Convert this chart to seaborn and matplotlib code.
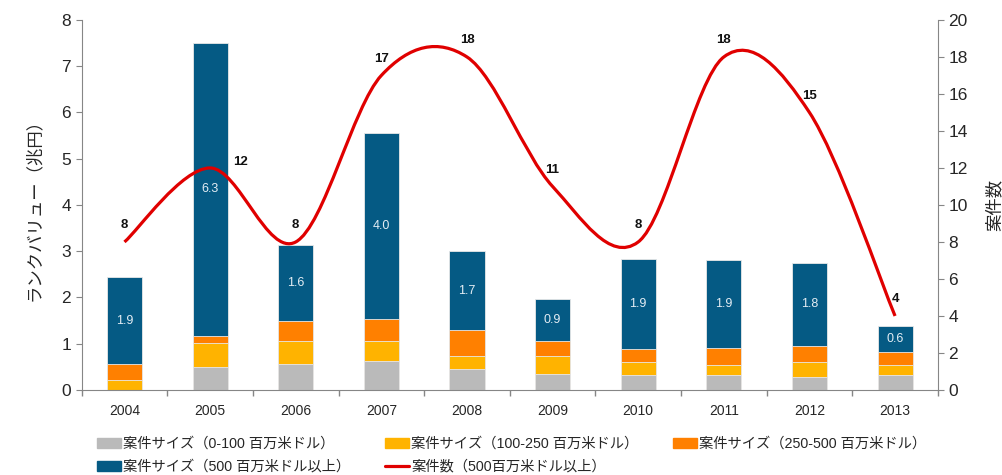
import numpy as np
import pandas as pd
import matplotlib
matplotlib.use("Agg")
import matplotlib.pyplot as plt
from matplotlib.path import Path
from matplotlib.patches import PathPatch, Patch
from matplotlib.lines import Line2D
import seaborn as sns

# data
years = ["2004", "2005", "2006", "2007", "2008", "2009", "2010", "2011", "2012", "2013"]
size_0_100 = [0.00, 0.49, 0.56, 0.62, 0.45, 0.34, 0.32, 0.32, 0.28, 0.32]
size_100_250 = [0.22, 0.53, 0.50, 0.44, 0.29, 0.39, 0.29, 0.22, 0.33, 0.22]
size_250_500 = [0.34, 0.15, 0.44, 0.47, 0.55, 0.33, 0.28, 0.37, 0.34, 0.28]
size_500_plus = [1.88, 6.33, 1.64, 4.03, 1.72, 0.91, 1.95, 1.89, 1.80, 0.56]
deal_count = [8, 12, 8, 17, 18, 11, 8, 18, 15, 4]

labels = [
    "案件サイズ（0-100 百万米ドル）",
    "案件サイズ（100-250 百万米ドル）",
    "案件サイズ（250-500 百万米ドル）",
    "案件サイズ（500 百万米ドル以上）",
    "案件数（500百万米ドル以上）",
]
colors = ["#BABABA", "#FFB300", "#FF8000", "#055A84"]
red = "#E00000"

sns.set_style("white")
plt.rcParams["font.family"] = ["Liberation Sans", "Noto Sans CJK JP", "DejaVu Sans"]

df = pd.DataFrame({"year": years, "a": size_0_100, "b": size_100_250,
                   "c": size_250_500, "d": size_500_plus})
df["c1"] = df["a"]
df["c2"] = df["c1"] + df["b"]
df["c3"] = df["c2"] + df["c"]
df["c4"] = df["c3"] + df["d"]

fig = plt.figure(figsize=(10.02, 4.75), dpi=100)
ax = fig.add_axes([0.0815, 0.179, 0.8545, 0.779])

# stacked bars: draw cumulative totals, tallest first
for col, c in zip(["c4", "c3", "c2", "c1"], colors[::-1]):
    sns.barplot(data=df, x="year", y=col, color=c, saturation=1, width=0.41,
                errorbar=None, edgecolor="#e8e8e8", linewidth=0.6, ax=ax)

# value labels on the big-deal segment
for i, row in df.iterrows():
    ax.text(i, row["c3"] + row["d"] / 2, f"{row['d']:.1f}", ha="center", va="center",
            color="#e4edf4", fontsize=9)

ax.set_xlim(-0.5, len(years) - 0.5)
ax.set_ylim(0, 8)
ax.set_yticks(range(0, 9))
ax.set_xticks(np.arange(-0.5, len(years), 1))
ax.set_xticklabels([])
ax.set_xticks(range(len(years)), minor=True)
ax.set_xticklabels(years, minor=True, fontsize=10)
ax.tick_params(axis="x", which="major", direction="out", length=4, color="#868686", width=1, bottom=True)
ax.tick_params(axis="x", which="minor", length=0, pad=10)
ax.tick_params(axis="y", direction="out", length=4, color="#868686", labelsize=12.5, left=True)
ax.set_xlabel("")
ax.set_ylabel("ランクバリュー（兆円）", fontsize=12.5, labelpad=14)
for s in ["top", "right"]:
    ax.spines[s].set_visible(False)
for s in ["left", "bottom"]:
    ax.spines[s].set_color("#868686")

# secondary axis: smoothed line for deal count
ax2 = ax.twinx()
ax2.set_ylim(0, 20)
ax2.set_yticks(range(0, 21, 2))
ax2.tick_params(axis="y", direction="out", length=4, color="#868686", labelsize=12.5, right=True)
ax2.set_ylabel("案件数", fontsize=12.5, labelpad=13)
for s in ["top", "left", "bottom"]:
    ax2.spines[s].set_visible(False)
ax2.spines["right"].set_color("#868686")

pts = np.column_stack([np.arange(len(years)), deal_count]).astype(float)
verts = [pts[0]]
codes = [Path.MOVETO]
for i in range(len(pts) - 1):
    p_prev = pts[max(i - 1, 0)]
    p_next2 = pts[min(i + 2, len(pts) - 1)]
    verts += [pts[i] + (pts[i + 1] - p_prev) / 6, pts[i + 1] - (p_next2 - pts[i]) / 6, pts[i + 1]]
    codes += [Path.CURVE4] * 3
ax2.add_patch(PathPatch(Path(verts, codes), facecolor="none", edgecolor=red, lw=2.3,
                        capstyle="butt"))

offsets = [(0, 12), (22, 4), (0, 12), (0, 12), (0, 12), (0, 12), (0, 12), (0, 12), (0, 12), (0, 12)]
for i, (v, off) in enumerate(zip(deal_count, offsets)):
    ax2.annotate(str(v), (i, v), xytext=off, textcoords="offset points", ha="center",
                 va="center", fontsize=9.5, fontweight="bold", color="#111111")

handles = [Patch(color=colors[0]), Patch(color=colors[3]), Patch(color=colors[1]),
           Line2D([], [], color=red, lw=2.3), Patch(color=colors[2])]
order = [0, 3, 1, 4, 2]
fig.legend(handles, [labels[k] for k in order], ncol=3, loc="upper left",
           bbox_to_anchor=(0.0968, 0.08), frameon=False, fontsize=10.3, handlelength=1.7,
           handletextpad=0.15, columnspacing=2.4, labelspacing=0.62, borderpad=0,
           borderaxespad=0)

fig.savefig("out.png", dpi=100)
